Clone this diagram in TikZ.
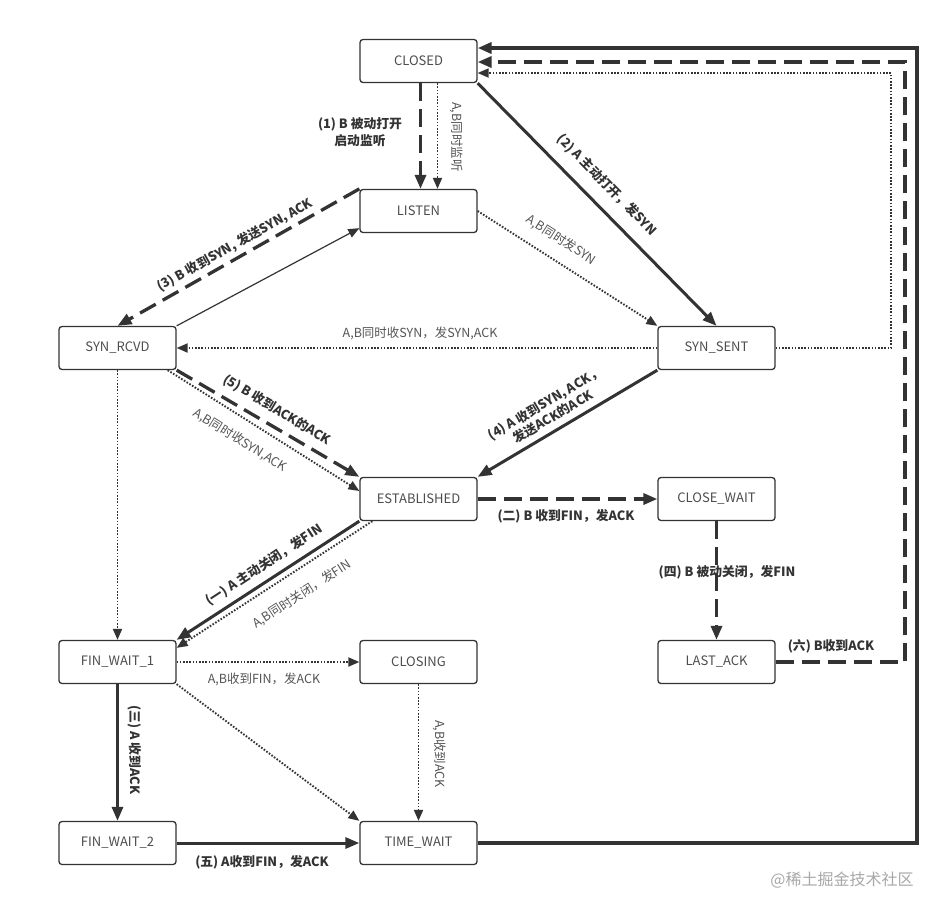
\documentclass[tikz,border=0pt]{standalone}
\usepackage{fontspec}
\setmainfont{Noto Sans CJK SC}
\usetikzlibrary{arrows.meta}
\definecolor{ln}{HTML}{333333}
\definecolor{nt}{HTML}{4D4D4D}
\definecolor{gl}{HTML}{555555}
\definecolor{wm}{HTML}{A8A8A8}
\begin{document}
\begin{tikzpicture}[x=1pt,y=-1pt,
 state/.style={draw=ln, line width=1.3pt, rounded corners=3pt, minimum width=117pt, minimum height=43pt, inner sep=0pt, text=nt, font=\fontsize{13}{15}\selectfont, fill=white},
 solidbig/.style={draw=ln, line width=3pt, -{Triangle[length=14pt,width=11pt]}},
 dashbig/.style={draw=ln, line width=3.3pt, dash pattern=on 18pt off 8pt, -{Triangle[length=14pt,width=11pt]}},
 dotline/.style={draw=ln, line width=1.9pt, dash pattern=on 1.6pt off 1.6pt, -{Triangle[length=11pt,width=9pt]}},
 thinline/.style={draw=ln, line width=1.2pt, -{Triangle[length=11pt,width=9pt]}},
 blab/.style={text=ln, font=\fontsize{12.8}{16.5}\selectfont\bfseries, inner sep=1pt, align=center},
 glab/.style={text=gl, font=\fontsize{12.5}{15}\selectfont, inner sep=1pt, align=center},
]
\useasboundingbox[fill=white] (0,0) rectangle (947,914);

% states
\node[state] (closed) at (418.5,61) {CLOSED};
\node[state] (listen) at (418.5,211) {LISTEN};
\node[state] (syn_rcvd) at (117.5,348) {SYN\_RCVD};
\node[state] (syn_sent) at (716.5,348) {SYN\_SENT};
\node[state] (estab) at (418.5,499) {ESTABLISHED};
\node[state] (close_wait) at (716.5,499) {CLOSE\_WAIT};
\node[state] (fin_wait_1) at (117.5,662) {FIN\_WAIT\_1};
\node[state] (closing) at (418.5,662) {CLOSING};
\node[state] (last_ack) at (716.5,662) {LAST\_ACK};
\node[state] (fin_wait_2) at (117.5,843) {FIN\_WAIT\_2};
\node[state] (time_wait) at (418.5,843) {TIME\_WAIT};

% corner waypoints on the right
\coordinate (c1) at (891,73);
\coordinate (c2) at (905,62);
\coordinate (c3) at (917,48);

% connectors
\draw[dashbig] ([xshift=2pt]closed.south) -- ([xshift=2pt]listen.north);
\draw[dotline] ([xshift=19pt]closed.south) -- ([xshift=19pt]listen.north);
\draw[solidbig] (closed.south east) -- (syn_sent.north);
\draw[dotline] (listen.east) -- (syn_sent.north west);
\draw[dashbig] (listen.north west) -- (syn_rcvd.north);
\draw[thinline] (syn_rcvd.north east) -- ([yshift=5pt]listen.south west);
\draw[dotline] (syn_sent.west) -- (syn_rcvd.east);
\draw[dotline] (syn_sent.east) -| (c1) -- ([yshift=-12pt]closed.east);
\draw[dashbig] (last_ack.east) -| (c2) -- ([yshift=-1pt]closed.east);
\draw[solidbig, line width=3.6pt] (time_wait.east) -| (c3) -- ([yshift=13pt]closed.east);
\draw[solidbig] (syn_sent.south west) -- (estab.north east);
\draw[dashbig] (syn_rcvd.south east) -- (estab.north west);
\draw[dotline] ([xshift=-9pt]syn_rcvd.south east) -- ([yshift=8pt]estab.west);
\draw[dotline] (syn_rcvd.south) -- (fin_wait_1.north);
\draw[dashbig] (estab.east) -- (close_wait.west);
\draw[solidbig] (estab.south west) -- (fin_wait_1.north east);
\draw[dotline] ([xshift=13pt]estab.south west) -- ([yshift=-8pt]fin_wait_1.north east);
\draw[dashbig] (close_wait.south) -- (last_ack.north);
\draw[dotline] (fin_wait_1.east) -- (closing.west);
\draw[dotline] (fin_wait_1.south east) -- (time_wait.north west);
\draw[solidbig] (fin_wait_1.south) -- (fin_wait_2.north);
\draw[dotline] (closing.south) -- (time_wait.north);
\draw[solidbig] (fin_wait_2.east) -- (time_wait.west);

% labels
\node[blab] (l1) at (360,132) {(1) B 被动打开\\启动监听};
\node[glab, rotate=-90] (l2) at (457,137) {A,B同时监听};
\node[blab, rotate=-45.6] (l3) at (607,185) {(2) A 主动打开，发SYN};
\node[glab, rotate=-32.6] (l4) at (561,240) {A,B同时发SYN};
\node[blab, rotate=29.2] (l5) at (235,245) {(3) B 收到SYN, 发送SYN, ACK};
\node[glab] (l6) at (420,333) {A,B同时收SYN，发SYN,ACK};
\node[blab, rotate=30.7] (l7) at (549,410) {(4) A 收到SYN, ACK，\\[-1pt]发送ACK的ACK};
\node[blab, rotate=-30.7] (l8) at (277,410) {(5) B 收到ACK的ACK};
\node[glab, rotate=-32] (l9) at (240,440) {A,B同时收SYN,ACK};
\node[blab] (l10) at (566,516) {(二) B 收到FIN，发ACK};
\node[blab, rotate=33.3] (l11) at (264,565) {(一) A 主动关闭，发FIN};
\node[glab, rotate=32.9] (l12) at (302,594) {A,B同时关闭，发FIN};
\node[blab] (l13) at (727,572) {(四) B 被动关闭，发FIN};
\node[blab] (l14) at (831,646) {(六) B收到ACK};
\node[glab] (l15) at (264,679) {A,B收到FIN，发ACK};
\node[blab, rotate=-90] (l16) at (135,750) {(三) A 收到ACK};
\node[glab, rotate=-90] (l17) at (440,754) {A,B收到ACK};
\node[blab] (l18) at (262,862) {(五) A收到FIN，发ACK};

\node[text=wm, font=\fontsize{16}{18}\selectfont, inner sep=0pt] (wmk) at (842,880) {@稀土掘金技术社区};
\end{tikzpicture}
\end{document}
